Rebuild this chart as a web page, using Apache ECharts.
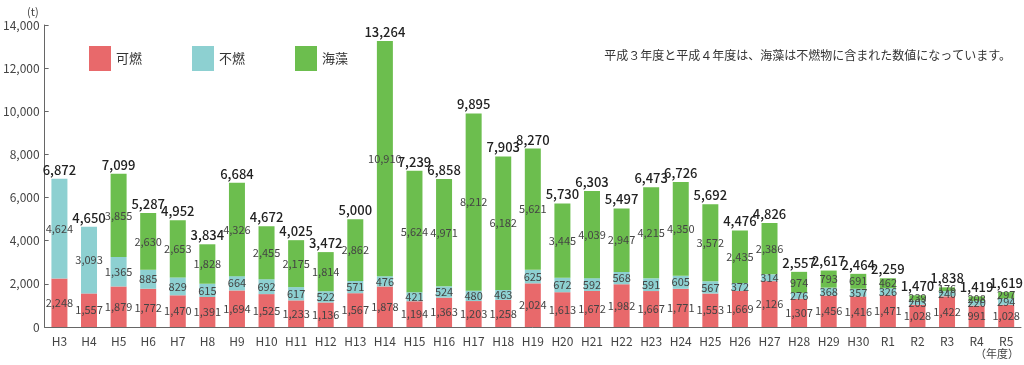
<!DOCTYPE html>
<html><head><meta charset="utf-8">
<script src="https://cdn.jsdelivr.net/npm/echarts@6/dist/echarts.min.js"></script>
<style>html,body{margin:0;padding:0;background:#fff}#c{width:1024px;height:365px}</style>
</head><body><div id="c"></div>
<script>
const categories = ['H3','H4','H5','H6','H7','H8','H9','H10','H11','H12','H13','H14','H15','H16','H17','H18','H19','H20','H21','H22','H23','H24','H25','H26','H27','H28','H29','H30','R1','R2','R3','R4','R5'];
const kanen = [2248,1557,1879,1772,1470,1391,1694,1525,1233,1136,1567,1878,1194,1363,1203,1258,2024,1613,1672,1982,1667,1771,1553,1669,2126,1307,1456,1416,1471,1028,1422,991,1028];
const funen = [4624,3093,1365,885,829,615,664,692,617,522,571,476,421,524,480,463,625,672,592,568,591,605,567,372,314,276,368,357,326,203,240,220,294];
const kaiso = [0,0,3855,2630,2653,1828,4326,2455,2175,1814,2862,10910,5624,4971,8212,6182,5621,3445,4039,2947,4215,4350,3572,2435,2386,974,793,691,462,239,176,208,297];
const totals = [6872,4650,7099,5287,4952,3834,6684,4672,4025,3472,5000,13264,7239,6858,9895,7903,8270,5730,6303,5497,6473,6726,5692,4476,4826,2557,2617,2464,2259,1470,1838,1419,1619];
const yTicks = {min:0, max:14000, interval:2000};

const FONT = '"Noto Sans CJK JP","Noto Sans",sans-serif';
const fmt = v => v.toLocaleString('en-US');
const segLabel = {show:true, position:'inside', fontSize:11, color:'#444', fontFamily:FONT,
  formatter: p => p.value ? fmt(p.value) : ''};
const chart = echarts.init(document.getElementById('c'));
chart.setOption({
  animation:false,
  textStyle:{fontFamily:FONT},
  grid:{left:39, right:3, top:25, bottom:38},
  title:{text:'平成３年度と平成４年度は、海藻は不燃物に含まれた数値になっています。', right:8, top:44,
    textStyle:{fontSize:12, fontWeight:'normal', color:'#333', fontFamily:FONT}},
  legend:{left:84, top:41, itemWidth:22, itemHeight:25, itemGap:50, icon:'rect',
    textStyle:{fontSize:13, color:'#333', fontFamily:FONT},
    data:['可燃','不燃','海藻']},
  xAxis:{type:'category', data:categories,
    axisLine:{lineStyle:{color:'#666'}}, axisTick:{show:false},
    axisLabel:{interval:0, fontSize:12, color:'#444', margin:8, fontFamily:FONT}},
  yAxis:{type:'value', min:yTicks.min, max:yTicks.max, interval:yTicks.interval,
    name:'(t)', nameLocation:'end', nameGap:8, nameTextStyle:{fontSize:11, color:'#444', align:'right', padding:[0,6,0,0]},
    axisLine:{show:true, lineStyle:{color:'#666'}},
    axisTick:{show:true, inside:true, length:4, lineStyle:{color:'#666'}},
    splitLine:{show:false},
    axisLabel:{fontSize:12, color:'#444', margin:5, formatter: v => fmt(v)}},
  graphic:[{type:'text', left:975, top:348, style:{text:'（年度）', fontSize:11, fill:'#444', fontFamily:FONT}}],
  series:[
    {name:'可燃', type:'bar', stack:'t', barWidth:16, data:kanen, itemStyle:{color:'#E8696B'}, label:segLabel},
    {name:'不燃', type:'bar', stack:'t', barWidth:16, data:funen, itemStyle:{color:'#8DD0D1'}, label:segLabel},
    {name:'海藻', type:'bar', stack:'t', barWidth:16, data:kaiso, itemStyle:{color:'#6CBE4E'}, label:segLabel},
    {name:'合計', type:'line', data:totals, symbol:'circle', symbolSize:1, showSymbol:true,
      itemStyle:{color:'rgba(0,0,0,0)'}, lineStyle:{opacity:0}, silent:true,
      label:{show:true, position:'top', distance:2, fontSize:13, color:'#222', fontWeight:500, formatter:p=>fmt(p.value)}}
  ]
});
</script></body></html>
